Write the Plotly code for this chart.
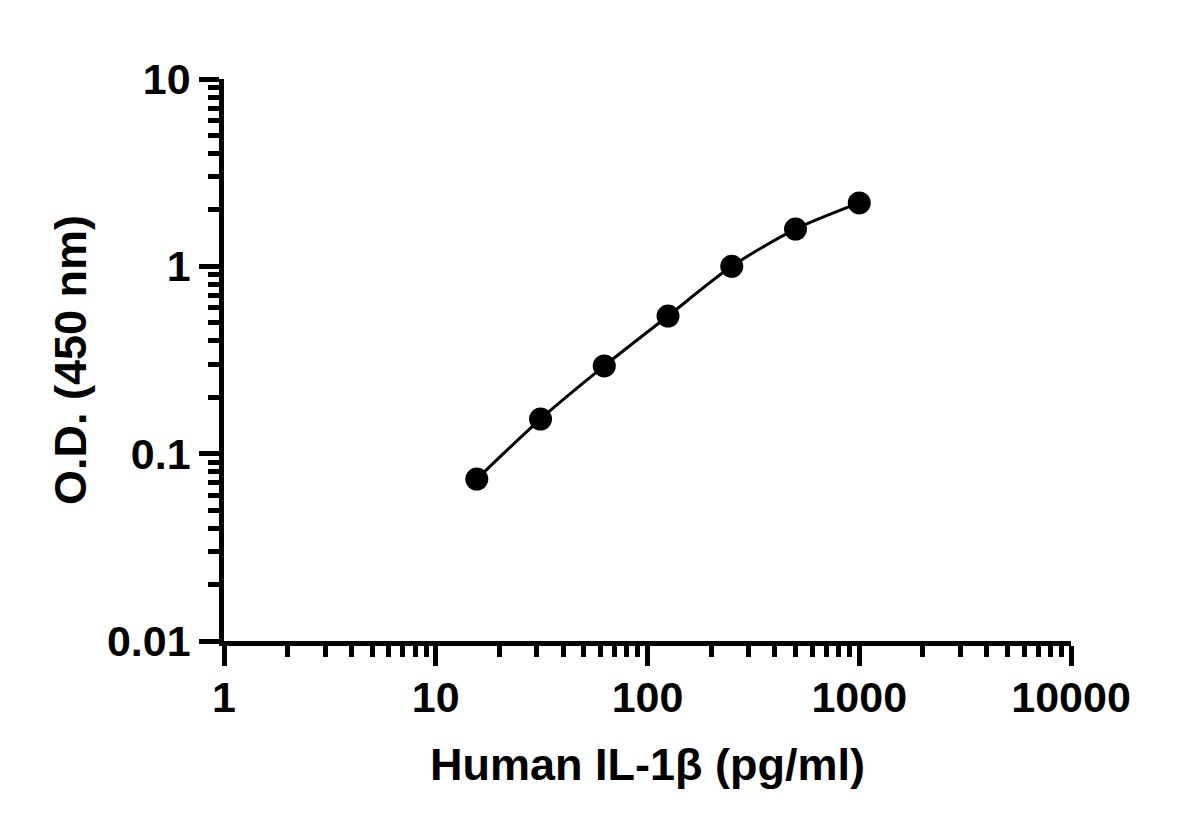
import plotly.graph_objects as go

# standard curve: concentration (pg/ml) vs O.D. at 450 nm
concentration = [15.625, 31.25, 62.5, 125, 250, 500, 1000]
od_450 = [0.0732, 0.153, 0.294, 0.543, 1.00, 1.58, 2.18]

x_ticks = [1, 10, 100, 1000, 10000]
x_tick_labels = ["1", "10", "100", "1000", "10000"]
y_ticks = [0.01, 0.1, 1, 10]
y_tick_labels = ["0.01", "0.1", "1", "10"]

x_minor = [m * d for d in (1, 10, 100, 1000) for m in range(2, 10)]
y_minor = [m * d for d in (0.01, 0.1, 1) for m in range(2, 10)]

FONT = "Liberation Sans, Arial, sans-serif"

fig = go.Figure()
fig.add_trace(
    go.Scatter(
        x=concentration,
        y=od_450,
        mode="lines+markers",
        line=dict(color="black", width=3, shape="spline", smoothing=0.8),
        marker=dict(color="black", size=23, line=dict(width=0)),
        showlegend=False,
    )
)

axis_common = dict(
    type="log",
    showgrid=False,
    zeroline=False,
    showline=True,
    linecolor="black",
    linewidth=4.5,
    ticks="outside",
    ticklen=20,
    tickwidth=4.5,
    tickcolor="black",
    tickfont=dict(family=FONT, size=43, color="black", weight="bold"),
    title_font=dict(family=FONT, size=45, color="black", weight="bold"),
)

fig.update_xaxes(
    **axis_common,
    range=[0, 4],
    tickvals=x_ticks,
    ticktext=x_tick_labels,
    minor=dict(tickvals=x_minor, ticks="outside", ticklen=11, tickwidth=4.5, tickcolor="black", showgrid=False),
    title_text="Human IL-1β (pg/ml)",
    title_standoff=30,
    ticklabelstandoff=-5,
)
fig.update_yaxes(
    **axis_common,
    range=[-2, 1],
    tickvals=y_ticks,
    ticktext=y_tick_labels,
    minor=dict(tickvals=y_minor, ticks="outside", ticklen=11, tickwidth=4.5, tickcolor="black", showgrid=False),
    title_text="O.D. (450 nm)",
    title_standoff=8,
    ticklabelstandoff=0,
)

# page body has an 8px margin, so the figure is a bit smaller than the window
fig.update_layout(
    width=1184,
    height=815,
    margin=dict(l=216, r=121, t=71, b=182),
    plot_bgcolor="white",
    paper_bgcolor="white",
)

fig.write_html("out.html")
